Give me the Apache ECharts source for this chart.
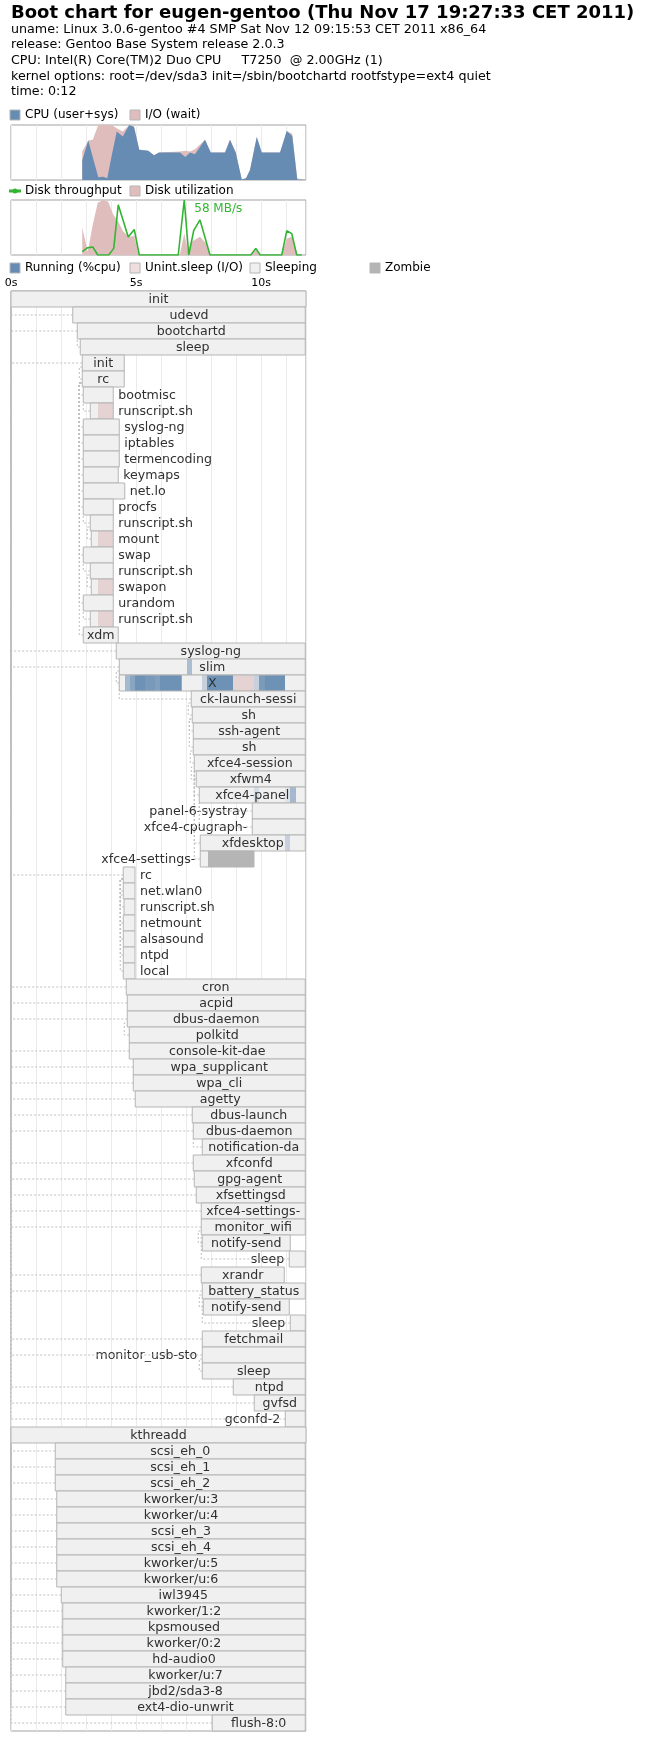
<!DOCTYPE html>
<html>
<head>
<meta charset="utf-8">
<title>Boot chart for eugen-gentoo</title>
<script src="https://cdn.jsdelivr.net/npm/echarts@6/dist/echarts.min.js"></script>
<style>
  html, body { margin: 0; padding: 0; background: #fff; }
  #chart { width: 645px; height: 1740px; }
</style>
</head>
<body>
<div id="chart"></div>
<script>
// 头部信息
const title = 'Boot chart for eugen-gentoo (Thu Nov 17 19:27:33 CET 2011)';
const headerLines = [
  'uname: Linux 3.0.6-gentoo #4 SMP Sat Nov 12 09:15:53 CET 2011 x86_64',
  'release: Gentoo Base System release 2.0.3',
  'CPU: Intel(R) Core(TM)2 Duo CPU     T7250  @ 2.00GHz (1)',
  'kernel options: root=/dev/sda3 init=/sbin/bootchartd rootfstype=ext4 quiet',
  'time: 0:12'
];
const duration = 11.8;
const secTicks = [0, 5, 10];

// CPU 图 (占比 0..1)
const cpuTimes = [2.85, 3.09, 3.27, 3.49, 3.69, 3.85, 4.03, 4.23, 4.47, 4.73, 4.92, 5.13, 5.49, 5.72, 5.92, 6.76, 6.97, 7.16, 7.36, 7.76, 7.99, 8.56, 8.76, 8.99, 9.23, 9.40, 9.56, 9.83, 10.03, 10.76, 11.03, 11.25, 11.45, 11.63, 11.8];
const cpuLoad = [0.36, 0.72, 0.42, 0.05, 0.06, 0.03, 0.45, 0.88, 0.79, 1.00, 0.97, 0.55, 0.53, 0.45, 0.50, 0.50, 0.42, 0.50, 0.47, 0.73, 0.50, 0.50, 0.73, 0.50, 0.01, 0.03, 0.18, 0.78, 0.50, 0.50, 0.89, 0.80, 0.01, 0.01, 0.01];
const ioWait = [0.16, 0, 0.31, 0.95, 0.94, 0.97, 0.55, 0.06, 0.09, 0, 0, 0, 0, 0, 0, 0.02, 0.11, 0.02, 0.09, 0, 0, 0, 0, 0, 0, 0, 0, 0, 0, 0, 0, 0.04, 0.02, 0, 0];

// 磁盘图
const diskTimes = [2.85, 3.07, 3.27, 3.47, 3.69, 3.89, 4.09, 4.29, 4.47, 4.71, 4.93, 5.11, 6.75, 6.93, 7.07, 7.25, 7.56, 7.81, 7.99, 9.61, 9.79, 9.97, 10.83, 11.03, 11.25, 11.45];
const diskUtil = [0.50, 0.06, 0.55, 0.95, 1.00, 0.97, 0.73, 0.61, 0.44, 0.33, 0.35, 0, 0, 0.39, 0.09, 0.25, 0.33, 0.21, 0, 0, 0.12, 0, 0, 0.30, 0.33, 0];
const tputTimes = [2.85, 3.05, 3.27, 3.47, 3.91, 4.11, 4.29, 4.69, 4.93, 5.13, 6.69, 6.93, 7.11, 7.31, 7.56, 7.96, 9.59, 9.79, 9.97, 10.83, 11.03, 11.23, 11.43, 11.63];
const tputValues = [3.5, 7.5, 8.5, 0, 0, 7, 53, 19, 27, 0, 0, 58, 0, 26, 37, 0, 0, 7, 0, 0, 25.5, 22.5, 0, 0]; // MB/s
const peakTput = Math.max(...tputValues);

// 进程树
const procNames = ['init', 'udevd', 'bootchartd', 'sleep', 'init', 'rc', 'bootmisc', 'runscript.sh', 'syslog-ng', 'iptables',
  'termencoding', 'keymaps', 'net.lo', 'procfs', 'runscript.sh', 'mount', 'swap', 'runscript.sh', 'swapon', 'urandom',
  'runscript.sh', 'xdm', 'syslog-ng', 'slim', 'X', 'ck-launch-sessi', 'sh', 'ssh-agent', 'sh', 'xfce4-session',
  'xfwm4', 'xfce4-panel', 'panel-6-systray', 'xfce4-cpugraph-', 'xfdesktop', 'xfce4-settings-', 'rc', 'net.wlan0', 'runscript.sh', 'netmount',
  'alsasound', 'ntpd', 'local', 'cron', 'acpid', 'dbus-daemon', 'polkitd', 'console-kit-dae', 'wpa_supplicant', 'wpa_cli',
  'agetty', 'dbus-launch', 'dbus-daemon', 'notification-da', 'xfconfd', 'gpg-agent', 'xfsettingsd', 'xfce4-settings-', 'monitor_wifi', 'notify-send',
  'sleep', 'xrandr', 'battery_status', 'notify-send', 'sleep', 'fetchmail', 'monitor_usb-sto', 'sleep', 'ntpd', 'gvfsd',
  'gconfd-2', 'kthreadd', 'scsi_eh_0', 'scsi_eh_1', 'scsi_eh_2', 'kworker/u:3', 'kworker/u:4', 'scsi_eh_3', 'scsi_eh_4', 'kworker/u:5',
  'kworker/u:6', 'iwl3945', 'kworker/1:2', 'kpsmoused', 'kworker/0:2', 'hd-audio0', 'kworker/u:7', 'jbd2/sda3-8', 'ext4-dio-unwrit', 'flush-8:0'];
const procStart = [0, 2.47, 2.65, 2.77, 2.85, 2.85, 2.89, 3.17, 2.89, 2.89,
  2.89, 2.89, 2.89, 2.89, 3.17, 3.21, 2.89, 3.17, 3.21, 2.89,
  3.17, 2.89, 4.21, 4.33, 4.33, 7.21, 7.25, 7.29, 7.29, 7.33,
  7.41, 7.53, 9.65, 9.65, 7.57, 7.57, 4.49, 4.49, 4.52, 4.49,
  4.49, 4.49, 4.49, 4.61, 4.65, 4.65, 4.73, 4.73, 4.89, 4.89,
  4.97, 7.25, 7.29, 7.65, 7.29, 7.33, 7.41, 7.61, 7.61, 7.65,
  11.13, 7.61, 7.65, 7.69, 11.17, 7.65, 7.65, 7.65, 8.89, 9.73,
  10.97, 0, 1.77, 1.77, 1.77, 1.83, 1.83, 1.83, 1.83, 1.83,
  1.83, 2.01, 2.07, 2.07, 2.07, 2.07, 2.19, 2.19, 2.19, 8.05];
const procEnd = [11.8, 11.77, 11.77, 11.77, 4.53, 4.53, 4.09, 4.09, 4.33, 4.33,
  4.33, 4.29, 4.55, 4.09, 4.09, 4.09, 4.09, 4.09, 4.09, 4.09,
  4.09, 4.29, 11.77, 11.77, 11.77, 11.77, 11.77, 11.77, 11.77, 11.77,
  11.77, 11.77, 11.77, 11.77, 11.77, 9.72, 4.96, 4.96, 4.96, 4.96,
  4.96, 4.96, 4.96, 11.77, 11.77, 11.77, 11.77, 11.77, 11.77, 11.77,
  11.77, 11.77, 11.77, 11.77, 11.77, 11.77, 11.77, 11.77, 11.77, 11.17,
  11.77, 10.93, 11.77, 11.13, 11.77, 11.77, 11.77, 11.77, 11.77, 11.77,
  11.77, 11.8, 11.77, 11.77, 11.77, 11.77, 11.77, 11.77, 11.77, 11.77,
  11.77, 11.77, 11.77, 11.77, 11.77, 11.77, 11.77, 11.77, 11.77, 11.77];
const procParent = [-1, 0, 0, 2, 0, 4, 5, 6, 5, 5,
  5, 5, 5, 5, 13, 14, 5, 16, 17, 5,
  19, 5, 0, 0, 23, 23, 25, 26, 26, 28,
  29, 29, 31, 31, 29, 29, 0, 36, 37, 36,
  36, 36, 36, 0, 0, 0, 45, 0, 0, 0,
  0, 0, 0, 52, 0, 0, 0, 0, 0, 58,
  58, 0, 0, 62, 62, 0, 0, 66, 0, 0,
  0, -1, 71, 71, 71, 71, 71, 71, 71, 71,
  71, 71, 71, 71, 71, 71, 71, 71, 71, 71];
// [行, 开始, 结束, 状态, cpu]
const procActivity = [
  [7, 3.48, 4.09, 'D', 0], [15, 3.48, 4.09, 'D', 0], [18, 3.48, 4.09, 'D', 0], [20, 3.48, 4.09, 'D', 0],
  [23, 7.04, 7.24, 'R', 0.5],
  [24, 4.56, 4.76, 'R', 0.55], [24, 4.76, 4.96, 'R', 0.75], [24, 4.96, 5.36, 'R', 0.95], [24, 5.36, 5.76, 'R', 0.88],
  [24, 5.76, 5.96, 'R', 0.8], [24, 5.96, 6.83, 'R', 0.95], [24, 7.64, 7.84, 'R', 0.3], [24, 7.84, 8.88, 'R', 0.95],
  [24, 8.88, 9.72, 'D', 0], [24, 9.72, 9.92, 'R', 0.3], [24, 9.92, 10.16, 'R', 0.85], [24, 10.16, 10.96, 'R', 0.95],
  [31, 9.72, 9.92, 'R', 0.2], [31, 10.96, 11.16, 'R', 0.12], [31, 11.16, 11.4, 'R', 0.55],
  [34, 10.96, 11.16, 'R', 0.3],
  [35, 7.88, 9.72, 'Z', 0]
];

const CPU_COLOR = '#668cb3';
const IO_COLOR = '#e0bdbd';
const TPUT_COLOR = '#33b533';
const SLEEP_COLOR = '#f0f0f0';
const ZOMBIE_COLOR = '#b5b5b5';
const D_COLOR = 'rgba(194,122,122,0.25)';
const PROC_BORDER = '#b5b5b5';
const FRAME = '#a1a1a1';
const FONT = '"DejaVu Sans"';
const LABEL_FONT = '12.6px ' + FONT;

const measureCtx = document.createElement('canvas').getContext('2d');
measureCtx.font = LABEL_FONT;

function stateColor(a) {
  if (a[3] === 'D') return D_COLOR;
  if (a[3] === 'Z') return ZOMBIE_COLOR;
  return 'rgba(102,140,178,' + a[4] + ')';
}

// 绘制单个进程
function renderProc(params, api) {
  const i = params.dataIndex;
  const h = api.size([0, 1])[1];
  const p0 = api.coord([procStart[i], i]);
  const x = p0[0], y = p0[1];
  const w = api.coord([procEnd[i], i])[0] - x;
  const maxX = params.coordSys.x + params.coordSys.width;
  const children = [{ type: 'rect', shape: { x: x, y: y, width: w, height: h }, style: { fill: SLEEP_COLOR } }];
  procActivity.forEach(a => {
    if (a[0] !== i) return;
    const ax0 = api.coord([a[1], i])[0];
    const ax1 = api.coord([a[2], i])[0];
    children.push({ type: 'rect', shape: { x: ax0, y: y, width: ax1 - ax0, height: h }, style: { fill: stateColor(a) } });
  });
  children.push({ type: 'rect', shape: { x: x, y: y, width: w, height: h }, style: { fill: 'none', stroke: PROC_BORDER, lineWidth: 1 } });

  // 标签：框内居中，放不下就放右边，再不行放左边
  const name = procNames[i];
  const tw = measureCtx.measureText(name).width;
  let lx = x + w / 2 - tw / 2;
  if (tw + 6 > w) lx = x + w + 5;
  if (lx + tw > maxX) lx = x - tw - 5;
  children.push({ type: 'text', x: lx, y: y + h / 2 + 0.5, style: { text: name, fill: '#303030', font: LABEL_FONT, align: 'left', verticalAlign: 'middle' } });

  const par = procParent[i];
  if (par >= 0) {
    const pp = api.coord([procStart[par], par]);
    const px = pp[0], py = pp[1] + h;
    const my = y + h / 2;
    let pts;
    if (Math.abs(px - x) < 3) {
      pts = [[x, my], [px - 3, my], [px - 3, py - h / 4], [px, py - h / 4]];
    } else {
      pts = [[x, my], [px, my], [px, py]];
    }
    children.push({ type: 'polyline', shape: { points: pts }, style: { stroke: '#bfbfbf', lineWidth: 1, lineDash: [2, 2], fill: null } });
  }
  return { type: 'group', children: children };
}

// 图例与标题
function legendBox(x, y, label, color) {
  return [
    { type: 'rect', shape: { x: x, y: y - 5, width: 10, height: 10 }, style: { fill: color, stroke: PROC_BORDER, lineWidth: 1 } },
    { type: 'text', x: x + 15, y: y, style: { text: label, fill: '#000', font: '12px ' + FONT, verticalAlign: 'middle' } }
  ];
}

const graphics = [
  { type: 'text', x: 11, y: 13.5, style: { text: title, fill: '#000', font: 'bold 18px ' + FONT, verticalAlign: 'middle' } }
];
headerLines.forEach((s, k) => {
  graphics.push({ type: 'text', x: 11, y: 29.5 + k * 15.6, style: { text: s, fill: '#000', font: '12.7px ' + FONT, verticalAlign: 'middle' } });
});
graphics.push(...legendBox(10, 115, 'CPU (user+sys)', CPU_COLOR));
graphics.push(...legendBox(130, 115, 'I/O (wait)', IO_COLOR));
graphics.push(
  { type: 'rect', shape: { x: 9, y: 189.5, width: 12, height: 3 }, style: { fill: TPUT_COLOR } },
  { type: 'circle', shape: { cx: 15, cy: 191, r: 2.5 }, style: { fill: TPUT_COLOR } },
  { type: 'text', x: 25, y: 191, style: { text: 'Disk throughput', fill: '#000', font: '12px ' + FONT, verticalAlign: 'middle' } }
);
graphics.push(...legendBox(130, 191, 'Disk utilization', IO_COLOR));
graphics.push(...legendBox(10, 268, 'Running (%cpu)', CPU_COLOR));
graphics.push(...legendBox(130, 268, 'Unint.sleep (I/O)', D_COLOR));
graphics.push(...legendBox(250, 268, 'Sleeping', SLEEP_COLOR));
graphics.push(...legendBox(370, 268, 'Zombie', ZOMBIE_COLOR));

const gridTops = [125, 200, 291];
const gridHeights = [55, 55, 16 * procNames.length];
const peakIdx = tputValues.indexOf(peakTput);
// CPU + I/O 合计，画在 CPU 后面
const cpuTotal = cpuLoad.map((c, i) => c + ioWait[i]);

const chart = echarts.init(document.getElementById('chart'), null, { renderer: 'canvas' });
chart.setOption({
  animation: false,
  textStyle: { fontFamily: 'DejaVu Sans' },
  graphic: graphics,
  grid: gridTops.map((t, g) => ({
    left: 11, top: t, width: 295, height: gridHeights[g],
    show: true, borderColor: FRAME, borderWidth: 1, backgroundColor: 'transparent'
  })),
  xAxis: gridTops.map((t, g) => ({
    type: 'value', gridIndex: g, min: 0, max: duration, interval: 1, position: 'top',
    axisLine: { show: false }, axisTick: { show: false },
    axisLabel: {
      show: g === 2, margin: 2, fontSize: 11, color: '#000',
      formatter: v => secTicks.indexOf(v) >= 0 ? v + 's' : ''
    },
    splitLine: { show: true, lineStyle: { color: '#ebebeb', width: 1 } }
  })),
  yAxis: [
    { type: 'value', gridIndex: 0, min: 0, max: 1, show: false },
    { type: 'value', gridIndex: 1, min: 0, max: 1, show: false },
    { type: 'value', gridIndex: 1, min: 0, max: peakTput, show: false },
    { type: 'value', gridIndex: 2, min: 0, max: procNames.length, inverse: true, show: false }
  ],
  series: [
    {
      name: 'I/O (wait)', type: 'line', xAxisIndex: 0, yAxisIndex: 0,
      data: cpuTimes.map((t, i) => [t, cpuTotal[i]]),
      symbol: 'none', lineStyle: { opacity: 0 }, areaStyle: { color: IO_COLOR, opacity: 1 }, z: 2
    },
    {
      name: 'CPU (user+sys)', type: 'line', xAxisIndex: 0, yAxisIndex: 0,
      data: cpuTimes.map((t, i) => [t, cpuLoad[i]]),
      symbol: 'none', lineStyle: { opacity: 0 }, areaStyle: { color: CPU_COLOR, opacity: 1 }, z: 3
    },
    {
      name: 'Disk utilization', type: 'line', xAxisIndex: 1, yAxisIndex: 1,
      data: diskTimes.map((t, i) => [t, diskUtil[i]]),
      symbol: 'none', lineStyle: { opacity: 0 }, areaStyle: { color: IO_COLOR, opacity: 1 }, z: 2
    },
    {
      name: 'Disk throughput', type: 'line', xAxisIndex: 1, yAxisIndex: 2,
      data: tputTimes.map((t, i) => [t, tputValues[i]]),
      symbol: 'none', lineStyle: { color: TPUT_COLOR, width: 1.6 }, z: 3,
      markPoint: {
        symbol: 'circle', symbolSize: 0, silent: true,
        label: { show: true, position: 'right', distance: 5, offset: [5, 9], color: TPUT_COLOR, fontSize: 12, formatter: peakTput + ' MB/s' },
        data: [{ coord: [tputTimes[peakIdx], peakTput] }]
      }
    },
    {
      type: 'custom', xAxisIndex: 2, yAxisIndex: 3,
      data: procNames.map((n, i) => [procStart[i], i, procEnd[i]]),
      renderItem: renderProc
    }
  ]
});
</script>
</body>
</html>
